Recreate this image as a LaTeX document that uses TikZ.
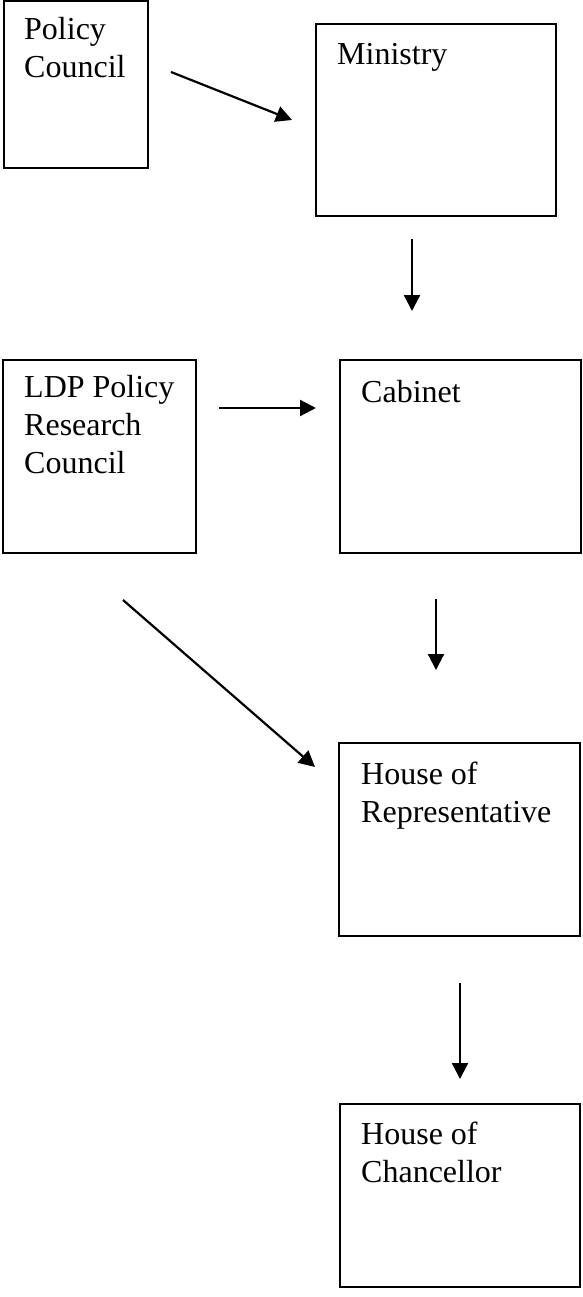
\documentclass[tikz,border=0pt]{standalone}
\usepackage{fontspec}
\setmainfont{Liberation Serif}
\usetikzlibrary{arrows.meta}

\begin{document}
\begin{tikzpicture}[x=1pt,y=-1pt,
  box/.style={draw,line width=2.4pt,inner sep=0pt},
  lbl/.style={anchor=base west,align=left,inner sep=0pt,font=\fontsize{32}{38}\selectfont},
  arr/.style={-{Triangle[length=16pt,width=16pt]},line width=2.2pt}]
\useasboundingbox (0,0) rectangle (582,1297);

% boxes
\node[box,minimum width=144pt,minimum height=167pt] (policy) at (76,84.5) {};
\node[box,minimum width=240pt,minimum height=192pt] (ministry) at (436,120) {};
\node[box,minimum width=193pt,minimum height=193pt] (ldp) at (99.5,456.5) {};
\node[box,minimum width=241pt,minimum height=193pt] (cabinet) at (460.5,456.5) {};
\node[box,minimum width=241pt,minimum height=193pt] (houserep) at (459.5,839.5) {};
\node[box,minimum width=240pt,minimum height=183pt] (housechan) at (460,1195.5) {};

% box texts (placed at the baseline of the last line)
\node[lbl] (policytxt) at (24,78) {Policy\\Council};
\node[lbl] (ministrytxt) at (337,65) {Ministry};
\node[lbl] (ldptxt) at (24,473) {LDP Policy\\Research\\Council};
\node[lbl] (cabinettxt) at (361,402) {Cabinet};
\node[lbl] (houseReptxt) at (361,822) {House of\\Representative};
\node[lbl] (houseChantxt) at (361,1182) {House of\\Chancellor};

% arrow ends
\coordinate (pm1) at (171,72);  \coordinate (pm2) at (292,120);
\coordinate (mc1) at (412,239); \coordinate (mc2) at (412,311);
\coordinate (lc1) at (219,408); \coordinate (lc2) at (316,408);
\coordinate (ch1) at (436,599); \coordinate (ch2) at (436,670);
\coordinate (lh1) at (123,600); \coordinate (lh2) at (315,767);
\coordinate (hh1) at (460,983); \coordinate (hh2) at (460,1079);

\draw[arr] (pm1) -- (pm2);
\draw[arr] (mc1) -- (mc2);
\draw[arr] (lc1) -- (lc2);
\draw[arr] (ch1) -- (ch2);
\draw[arr] (lh1) -- (lh2);
\draw[arr] (hh1) -- (hh2);
\end{tikzpicture}
\end{document}
